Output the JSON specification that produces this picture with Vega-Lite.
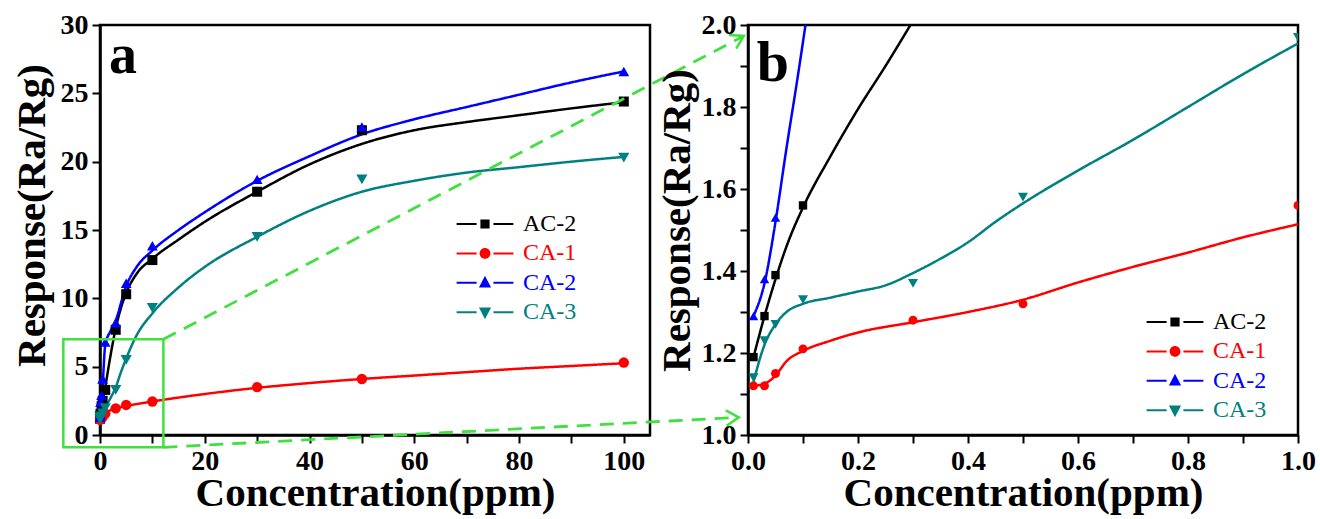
{
  "$schema": "https://vega.github.io/schema/vega-lite/v6.json",
  "background": "white",
  "padding": {"left": 9, "top": 9, "right": 0, "bottom": 0},
  "bounds": "flush",
  "spacing": 98,
  "resolve": {
    "scale": {"color": "independent", "shape": "independent", "size": "independent", "stroke": "independent", "strokeDash": "independent"},
    "legend": {"strokeDash": "independent"}
  },
  "config": {
    "font": "Liberation Serif",
    "view": {"stroke": "black", "strokeWidth": 2.5},
    "axis": {
      "domainColor": "black", "domainWidth": 2.5, "tickColor": "black", "tickWidth": 2, "tickSize": 8,
      "labelFont": "Liberation Serif", "labelFontSize": 28, "labelFontWeight": "bold", "labelColor": "black",
      "labelOverlap": false, "labelFlush": false, "labelPadding": 4,
      "titleFont": "Liberation Serif", "titleFontSize": 41, "titleFontWeight": "bold", "titleColor": "black",
      "grid": false
    },
    "legend": {
      "orient": "none", "title": null, "padding": 0, "symbolSize": 64, "labelOffset": 26,
      "labelFont": "Liberation Serif", "labelFontSize": 24, "rowPadding": 5.4, "symbolStrokeWidth": 2
    }
  },
  "datasets": {
    "pts": [
      {"s": "AC-2", "x": 0.01, "y": 1.19}, {"s": "AC-2", "x": 0.03, "y": 1.29}, {"s": "AC-2", "x": 0.05, "y": 1.39},
      {"s": "AC-2", "x": 0.1, "y": 1.56}, {"s": "AC-2", "x": 0.3, "y": 2.1}, {"s": "AC-2", "x": 0.5, "y": 2.5},
      {"s": "AC-2", "x": 1, "y": 3.3}, {"s": "AC-2", "x": 3, "y": 7.7}, {"s": "AC-2", "x": 5, "y": 10.3},
      {"s": "AC-2", "x": 10, "y": 12.8}, {"s": "AC-2", "x": 30, "y": 17.8}, {"s": "AC-2", "x": 50, "y": 22.3},
      {"s": "AC-2", "x": 100, "y": 24.4},
      {"s": "CA-1", "x": 0.01, "y": 1.12}, {"s": "CA-1", "x": 0.03, "y": 1.12}, {"s": "CA-1", "x": 0.05, "y": 1.15},
      {"s": "CA-1", "x": 0.1, "y": 1.21}, {"s": "CA-1", "x": 0.3, "y": 1.28}, {"s": "CA-1", "x": 0.5, "y": 1.32},
      {"s": "CA-1", "x": 1, "y": 1.56}, {"s": "CA-1", "x": 3, "y": 1.95}, {"s": "CA-1", "x": 5, "y": 2.2},
      {"s": "CA-1", "x": 10, "y": 2.45}, {"s": "CA-1", "x": 30, "y": 3.5}, {"s": "CA-1", "x": 50, "y": 4.1},
      {"s": "CA-1", "x": 100, "y": 5.3},
      {"s": "CA-2", "x": 0.01, "y": 1.29}, {"s": "CA-2", "x": 0.03, "y": 1.38}, {"s": "CA-2", "x": 0.05, "y": 1.53},
      {"s": "CA-2", "x": 0.1, "y": 2.4}, {"s": "CA-2", "x": 0.3, "y": 2.9}, {"s": "CA-2", "x": 0.5, "y": 4.1},
      {"s": "CA-2", "x": 1, "y": 6.8}, {"s": "CA-2", "x": 3, "y": 8.2}, {"s": "CA-2", "x": 5, "y": 11.1},
      {"s": "CA-2", "x": 10, "y": 13.85}, {"s": "CA-2", "x": 30, "y": 18.7}, {"s": "CA-2", "x": 50, "y": 22.55},
      {"s": "CA-2", "x": 100, "y": 26.6},
      {"s": "CA-3", "x": 0.01, "y": 1.14}, {"s": "CA-3", "x": 0.03, "y": 1.23}, {"s": "CA-3", "x": 0.05, "y": 1.27},
      {"s": "CA-3", "x": 0.1, "y": 1.33}, {"s": "CA-3", "x": 0.3, "y": 1.37}, {"s": "CA-3", "x": 0.5, "y": 1.58},
      {"s": "CA-3", "x": 1, "y": 1.97}, {"s": "CA-3", "x": 3, "y": 3.3}, {"s": "CA-3", "x": 5, "y": 5.5},
      {"s": "CA-3", "x": 10, "y": 9.3}, {"s": "CA-3", "x": 30, "y": 14.5}, {"s": "CA-3", "x": 50, "y": 18.7},
      {"s": "CA-3", "x": 100, "y": 20.3}
    ],
    "fitA": [
      {"s": "AC-2", "x": 0.01, "y": 1.2}, {"s": "AC-2", "x": 0.5, "y": 2.4}, {"s": "AC-2", "x": 1, "y": 3.5},
      {"s": "AC-2", "x": 2, "y": 5.8}, {"s": "AC-2", "x": 3, "y": 7.8}, {"s": "AC-2", "x": 4, "y": 9.3},
      {"s": "AC-2", "x": 5, "y": 10.4}, {"s": "AC-2", "x": 7, "y": 11.8}, {"s": "AC-2", "x": 10, "y": 12.9},
      {"s": "AC-2", "x": 15, "y": 14.3}, {"s": "AC-2", "x": 20, "y": 15.6}, {"s": "AC-2", "x": 30, "y": 17.8},
      {"s": "AC-2", "x": 40, "y": 19.8}, {"s": "AC-2", "x": 50, "y": 21.3}, {"s": "AC-2", "x": 60, "y": 22.3},
      {"s": "AC-2", "x": 70, "y": 22.9}, {"s": "AC-2", "x": 80, "y": 23.4}, {"s": "AC-2", "x": 90, "y": 23.9},
      {"s": "AC-2", "x": 100, "y": 24.35},
      {"s": "CA-1", "x": 0.01, "y": 0.85}, {"s": "CA-1", "x": 0.5, "y": 1.3}, {"s": "CA-1", "x": 1, "y": 1.55},
      {"s": "CA-1", "x": 3, "y": 1.95}, {"s": "CA-1", "x": 5, "y": 2.12}, {"s": "CA-1", "x": 10, "y": 2.45},
      {"s": "CA-1", "x": 20, "y": 3.0}, {"s": "CA-1", "x": 30, "y": 3.45}, {"s": "CA-1", "x": 40, "y": 3.8},
      {"s": "CA-1", "x": 50, "y": 4.1}, {"s": "CA-1", "x": 60, "y": 4.35}, {"s": "CA-1", "x": 70, "y": 4.6},
      {"s": "CA-1", "x": 80, "y": 4.85}, {"s": "CA-1", "x": 90, "y": 5.05}, {"s": "CA-1", "x": 100, "y": 5.25},
      {"s": "CA-2", "x": 0.01, "y": 1.3}, {"s": "CA-2", "x": 0.5, "y": 3.6}, {"s": "CA-2", "x": 1, "y": 6.6},
      {"s": "CA-2", "x": 2, "y": 7.6}, {"s": "CA-2", "x": 3, "y": 8.4}, {"s": "CA-2", "x": 5, "y": 10.9},
      {"s": "CA-2", "x": 7, "y": 12.3}, {"s": "CA-2", "x": 10, "y": 13.5}, {"s": "CA-2", "x": 15, "y": 15.0},
      {"s": "CA-2", "x": 20, "y": 16.3}, {"s": "CA-2", "x": 30, "y": 18.6}, {"s": "CA-2", "x": 40, "y": 20.4},
      {"s": "CA-2", "x": 50, "y": 22.0}, {"s": "CA-2", "x": 60, "y": 23.1}, {"s": "CA-2", "x": 70, "y": 24.0},
      {"s": "CA-2", "x": 80, "y": 24.9}, {"s": "CA-2", "x": 90, "y": 25.8}, {"s": "CA-2", "x": 100, "y": 26.6},
      {"s": "CA-3", "x": 0.01, "y": 1.1}, {"s": "CA-3", "x": 1, "y": 2.0}, {"s": "CA-3", "x": 2, "y": 2.7},
      {"s": "CA-3", "x": 3, "y": 3.5}, {"s": "CA-3", "x": 4, "y": 4.6}, {"s": "CA-3", "x": 5, "y": 5.6},
      {"s": "CA-3", "x": 7, "y": 7.3}, {"s": "CA-3", "x": 10, "y": 8.9}, {"s": "CA-3", "x": 15, "y": 10.8},
      {"s": "CA-3", "x": 20, "y": 12.3}, {"s": "CA-3", "x": 30, "y": 14.5}, {"s": "CA-3", "x": 40, "y": 16.4},
      {"s": "CA-3", "x": 50, "y": 17.8}, {"s": "CA-3", "x": 60, "y": 18.6}, {"s": "CA-3", "x": 70, "y": 19.2},
      {"s": "CA-3", "x": 80, "y": 19.6}, {"s": "CA-3", "x": 90, "y": 20.0}, {"s": "CA-3", "x": 100, "y": 20.35}
    ],
    "fitB": [
      {"s": "AC-2", "x": 0.01, "y": 1.19}, {"s": "AC-2", "x": 0.03, "y": 1.29}, {"s": "AC-2", "x": 0.05, "y": 1.38},
      {"s": "AC-2", "x": 0.07, "y": 1.46}, {"s": "AC-2", "x": 0.1, "y": 1.555}, {"s": "AC-2", "x": 0.15, "y": 1.68},
      {"s": "AC-2", "x": 0.2, "y": 1.795}, {"s": "AC-2", "x": 0.25, "y": 1.9}, {"s": "AC-2", "x": 0.3, "y": 2.01},
      {"s": "AC-2", "x": 0.35, "y": 2.12},
      {"s": "CA-1", "x": 0.01, "y": 1.12}, {"s": "CA-1", "x": 0.03, "y": 1.125}, {"s": "CA-1", "x": 0.05, "y": 1.145},
      {"s": "CA-1", "x": 0.07, "y": 1.18}, {"s": "CA-1", "x": 0.1, "y": 1.205}, {"s": "CA-1", "x": 0.15, "y": 1.23},
      {"s": "CA-1", "x": 0.2, "y": 1.25}, {"s": "CA-1", "x": 0.3, "y": 1.275}, {"s": "CA-1", "x": 0.4, "y": 1.3},
      {"s": "CA-1", "x": 0.5, "y": 1.33}, {"s": "CA-1", "x": 0.6, "y": 1.372}, {"s": "CA-1", "x": 0.7, "y": 1.41},
      {"s": "CA-1", "x": 0.8, "y": 1.445}, {"s": "CA-1", "x": 0.9, "y": 1.482}, {"s": "CA-1", "x": 1.0, "y": 1.514},
      {"s": "CA-2", "x": 0.01, "y": 1.29}, {"s": "CA-2", "x": 0.03, "y": 1.37}, {"s": "CA-2", "x": 0.05, "y": 1.52},
      {"s": "CA-2", "x": 0.07, "y": 1.7}, {"s": "CA-2", "x": 0.09, "y": 1.87}, {"s": "CA-2", "x": 0.11, "y": 2.05},
      {"s": "CA-3", "x": 0.01, "y": 1.13}, {"s": "CA-3", "x": 0.03, "y": 1.22}, {"s": "CA-3", "x": 0.05, "y": 1.27},
      {"s": "CA-3", "x": 0.07, "y": 1.3}, {"s": "CA-3", "x": 0.1, "y": 1.32}, {"s": "CA-3", "x": 0.15, "y": 1.335},
      {"s": "CA-3", "x": 0.2, "y": 1.35}, {"s": "CA-3", "x": 0.25, "y": 1.365}, {"s": "CA-3", "x": 0.3, "y": 1.395},
      {"s": "CA-3", "x": 0.35, "y": 1.43}, {"s": "CA-3", "x": 0.4, "y": 1.47}, {"s": "CA-3", "x": 0.45, "y": 1.52},
      {"s": "CA-3", "x": 0.5, "y": 1.565}, {"s": "CA-3", "x": 0.6, "y": 1.645}, {"s": "CA-3", "x": 0.7, "y": 1.72},
      {"s": "CA-3", "x": 0.8, "y": 1.8}, {"s": "CA-3", "x": 0.9, "y": 1.88}, {"s": "CA-3", "x": 1.0, "y": 1.955}
    ],
    "box": [{"x1": -7, "x2": 12.1, "y1": -0.9, "y2": 7.0}],
    "zoomlines": [
      {"seg": "up", "x": 12.1, "y": 7.0}, {"seg": "up", "x": 122.9, "y": 29.2},
      {"seg": "low", "x": 12.1, "y": -0.9}, {"seg": "low", "x": 121.95, "y": 1.29}
    ]
  },
  "hconcat": [
    {
      "width": 550, "height": 410,
      "layer": [
        {
          "data": {"name": "fitA"},
          "mark": {"type": "line", "strokeWidth": 2.5, "interpolate": "monotone"},
          "encoding": {
            "x": {"field": "x", "type": "quantitative", "scale": {"domain": [0, 105], "nice": false, "zero": false},
              "axis": {"values": [0, 10, 20, 30, 40, 50, 60, 70, 80, 90, 100], "title": "Concentration(ppm)", "titlePadding": -2,
                "labelExpr": "datum.value % 20 === 0 ? datum.label : ''",
                "encode": {"ticks": {"update": {"y2": {"signal": "datum.value % 20 === 0 ? 8 : 4"}}}}}},
            "y": {"field": "y", "type": "quantitative", "scale": {"domain": [0, 30], "nice": false, "zero": false},
              "axis": {"values": [0, 2.5, 5, 7.5, 10, 12.5, 15, 17.5, 20, 22.5, 25, 27.5, 30], "title": "Response(Ra/Rg)", "titlePadding": 7, "titleY": 190,
                "labelExpr": "datum.value % 5 === 0 ? datum.label : ''",
                "encode": {"ticks": {"update": {"x2": {"signal": "datum.value % 5 === 0 ? -8 : -4"}}}}}},
            "stroke": {"field": "s", "type": "nominal", "legend": null,
              "scale": {"domain": ["AC-2", "CA-1", "CA-2", "CA-3"], "range": ["#000000", "#ff0000", "#0000ff", "#008080"]}},
            "strokeDash": {"field": "s", "type": "nominal",
              "scale": {"range": [[1, 0], [1, 0], [1, 0], [1, 0]]},
              "legend": {"orient": "none", "legendX": 373, "legendY": 187,
                "encode": {
                  "symbols": {"update": {
                    "shape": {"signal": "datum.value==='AC-2'?'M-7.1,0H-2.1M2.1,0H7.1M-0.9,-0.9H0.9V0.9H-0.9Z':datum.value==='CA-1'?'M-7.1,0H-2.1M2.1,0H7.1M-1.1,0A1.1,1.1 0 1,0 1.1,0A1.1,1.1 0 1,0 -1.1,0Z':datum.value==='CA-2'?'M-7.1,0H-2.1M2.1,0H7.1M0,-1.2L1.1,0.9H-1.1Z':'M-7.1,0H-2.1M2.1,0H7.1M0,1.2L1.1,-0.9H-1.1Z'"},
                    "size": {"value": 64},
                    "strokeWidth": {"value": 2},
                    "stroke": {"signal": "datum.value==='AC-2'?'#000000':datum.value==='CA-1'?'#ff0000':datum.value==='CA-2'?'#0000ff':'#008080'"},
                    "fill": {"signal": "datum.value==='AC-2'?'#000000':datum.value==='CA-1'?'#ff0000':datum.value==='CA-2'?'#0000ff':'#008080'"},
                    "opacity": {"value": 1}
                  }},
                  "labels": {"update": {"fill": {"signal": "datum.value==='AC-2'?'#000000':datum.value==='CA-1'?'#ff0000':datum.value==='CA-2'?'#0000ff':'#008080'"}}}
                }}},
            "detail": {"field": "s"}
          }
        },
        {
          "data": {"name": "pts"},
          "mark": {"type": "point", "filled": true, "opacity": 1},
          "encoding": {
            "x": {"field": "x", "type": "quantitative"},
            "y": {"field": "y", "type": "quantitative"},
            "size": {"field": "s", "type": "ordinal", "legend": null, "scale": {"domain": ["AC-2", "CA-1", "CA-2", "CA-3"], "range": [100, 125, 130, 150]}},
            "color": {"field": "s", "type": "nominal", "legend": null,
              "scale": {"domain": ["AC-2", "CA-1", "CA-2", "CA-3"], "range": ["#000000", "#ff0000", "#0000ff", "#008080"]}},
            "shape": {"field": "s", "type": "nominal", "legend": null,
              "scale": {"domain": ["AC-2", "CA-1", "CA-2", "CA-3"], "range": ["square", "circle", "triangle-up", "triangle-down"]}}
          }
        },
        {
          "data": {"name": "box"},
          "mark": {"type": "rect", "fill": null, "stroke": "#40e040", "strokeWidth": 2.5, "clip": false},
          "encoding": {
            "x": {"field": "x1", "type": "quantitative"}, "x2": {"field": "x2"},
            "y": {"field": "y1", "type": "quantitative"}, "y2": {"field": "y2"}
          }
        },
        {
          "data": {"name": "zoomlines"},
          "mark": {"type": "line", "stroke": "#40e040", "strokeWidth": 2.8, "strokeDash": [14, 9], "clip": false},
          "encoding": {
            "x": {"field": "x", "type": "quantitative"},
            "y": {"field": "y", "type": "quantitative"},
            "detail": {"field": "seg"}
          }
        },
        {
          "data": {"name": "zoomlines"},
          "transform": [{"filter": "datum.seg === 'up' && datum.x > 50"}],
          "mark": {"type": "point", "shape": "M-1.8,-1.1L0,0L-1.8,1.1", "filled": false, "stroke": "#40e040", "strokeWidth": 2.5, "size": 196, "angle": -27.7, "opacity": 1, "clip": false},
          "encoding": {"x": {"field": "x", "type": "quantitative"}, "y": {"field": "y", "type": "quantitative"}}
        },
        {
          "data": {"name": "zoomlines"},
          "transform": [{"filter": "datum.seg === 'low' && datum.x > 50"}],
          "mark": {"type": "point", "shape": "M-1.8,-1.1L0,0L-1.8,1.1", "filled": false, "stroke": "#40e040", "strokeWidth": 2.5, "size": 196, "angle": -3, "opacity": 1, "clip": false},
          "encoding": {"x": {"field": "x", "type": "quantitative"}, "y": {"field": "y", "type": "quantitative"}}
        },
        {
          "data": {"values": [{"panel": "a"}]},
          "mark": {"type": "text", "font": "Liberation Serif", "fontWeight": "bold", "fontSize": 56, "align": "left", "baseline": "alphabetic", "color": "black"},
          "encoding": {"x": {"datum": 1.7}, "y": {"datum": 26.5}, "text": {"field": "panel"}}
        }
      ]
    },
    {
      "width": 550, "height": 410,
      "layer": [
        {
          "data": {"name": "fitB"},
          "mark": {"type": "line", "strokeWidth": 2.5, "interpolate": "monotone", "clip": true},
          "encoding": {
            "x": {"field": "x", "type": "quantitative", "scale": {"domain": [0, 1], "nice": false, "zero": false},
              "axis": {"values": [0, 0.1, 0.2, 0.3, 0.4, 0.5, 0.6, 0.7, 0.8, 0.9, 1.0], "title": "Concentration(ppm)", "titlePadding": -2, "format": ".1f",
                "labelExpr": "round(datum.value*10) % 2 === 0 ? datum.label : ''",
                "encode": {"ticks": {"update": {"y2": {"signal": "round(datum.value*10) % 2 === 0 ? 8 : 4"}}}}}},
            "y": {"field": "y", "type": "quantitative", "scale": {"domain": [1, 2], "nice": false, "zero": false},
              "axis": {"values": [1.0, 1.1, 1.2, 1.3, 1.4, 1.5, 1.6, 1.7, 1.8, 1.9, 2.0], "title": "Response(Ra/Rg)", "titlePadding": 3, "titleY": 195, "format": ".1f",
                "labelExpr": "round(datum.value*10) % 2 === 0 ? datum.label : ''",
                "encode": {"ticks": {"update": {"x2": {"signal": "round(datum.value*10) % 2 === 0 ? -8 : -4"}}}}}},
            "stroke": {"field": "s", "type": "nominal", "legend": null,
              "scale": {"domain": ["AC-2", "CA-1", "CA-2", "CA-3"], "range": ["#000000", "#ff0000", "#0000ff", "#008080"]}},
            "strokeDash": {"field": "s", "type": "nominal",
              "scale": {"range": [[1, 0], [1, 0], [1, 0], [1, 0]]},
              "legend": {"orient": "none", "legendX": 415, "legendY": 285,
                "encode": {
                  "symbols": {"update": {
                    "shape": {"signal": "datum.value==='AC-2'?'M-7.1,0H-2.1M2.1,0H7.1M-0.9,-0.9H0.9V0.9H-0.9Z':datum.value==='CA-1'?'M-7.1,0H-2.1M2.1,0H7.1M-1.1,0A1.1,1.1 0 1,0 1.1,0A1.1,1.1 0 1,0 -1.1,0Z':datum.value==='CA-2'?'M-7.1,0H-2.1M2.1,0H7.1M0,-1.2L1.1,0.9H-1.1Z':'M-7.1,0H-2.1M2.1,0H7.1M0,1.2L1.1,-0.9H-1.1Z'"},
                    "size": {"value": 64},
                    "strokeWidth": {"value": 2},
                    "stroke": {"signal": "datum.value==='AC-2'?'#000000':datum.value==='CA-1'?'#ff0000':datum.value==='CA-2'?'#0000ff':'#008080'"},
                    "fill": {"signal": "datum.value==='AC-2'?'#000000':datum.value==='CA-1'?'#ff0000':datum.value==='CA-2'?'#0000ff':'#008080'"},
                    "opacity": {"value": 1}
                  }},
                  "labels": {"update": {"fill": {"signal": "datum.value==='AC-2'?'#000000':datum.value==='CA-1'?'#ff0000':datum.value==='CA-2'?'#0000ff':'#008080'"}}}
                }}},
            "detail": {"field": "s"}
          }
        },
        {
          "data": {"name": "pts"},
          "transform": [{"filter": "datum.x <= 1 && datum.y <= 2.02"}],
          "mark": {"type": "point", "filled": true, "opacity": 1, "clip": true},
          "encoding": {
            "x": {"field": "x", "type": "quantitative"},
            "y": {"field": "y", "type": "quantitative"},
            "size": {"field": "s", "type": "ordinal", "legend": null, "scale": {"domain": ["AC-2", "CA-1", "CA-2", "CA-3"], "range": [70, 100, 100, 120]}},
            "color": {"field": "s", "type": "nominal", "legend": null,
              "scale": {"domain": ["AC-2", "CA-1", "CA-2", "CA-3"], "range": ["#000000", "#ff0000", "#0000ff", "#008080"]}},
            "shape": {"field": "s", "type": "nominal", "legend": null,
              "scale": {"domain": ["AC-2", "CA-1", "CA-2", "CA-3"], "range": ["square", "circle", "triangle-up", "triangle-down"]}}
          }
        },
        {
          "data": {"values": [{"panel": "b"}]},
          "mark": {"type": "text", "font": "Liberation Serif", "fontWeight": "bold", "fontSize": 58, "align": "left", "baseline": "alphabetic", "color": "black"},
          "encoding": {"x": {"datum": 0.016}, "y": {"datum": 1.864}, "text": {"field": "panel"}}
        }
      ]
    }
  ]
}
